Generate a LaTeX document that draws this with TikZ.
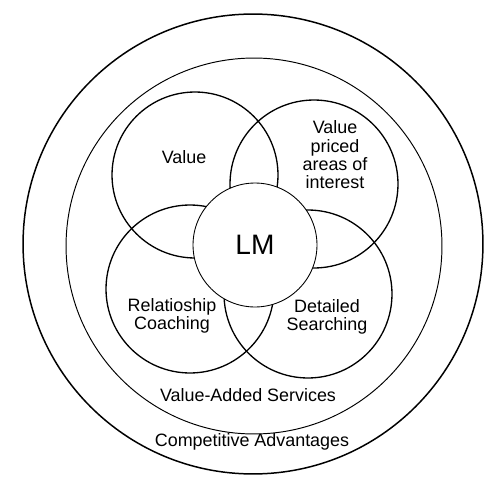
\documentclass[tikz,border=0pt]{standalone}
\usepackage{fontspec}
\setmainfont{Liberation Sans}

\begin{document}
\begin{tikzpicture}[x=0.02cm, y=-0.02cm,
  ring/.style={circle, draw, inner sep=0pt},
  petal/.style={ring, line width=0.75pt, minimum size=3.36cm},
  lbl/.style={align=center, font=\fontsize{10.2}{10.4}\selectfont}]
  \useasboundingbox (0,0) rectangle (500,500);
  % Outer rings
  \node[ring, line width=0.85pt, minimum size=9.2cm] (adv) at (253,244) {};
  \node[ring, line width=0.55pt, minimum size=7.52cm] (vas) at (254,246) {};
  % Four overlapping circles
  \node[petal, minimum size=3.32cm] (value) at (195,175) {};
  \node[petal] (priced) at (314,184) {};
  \node[petal] (coach) at (190,289) {};
  \node[petal] (search) at (308,294) {};
  % Centre circle
  \node[ring, fill=white, line width=0.5pt, minimum size=2.48cm,
        font=\fontsize{16}{18}\selectfont] (lm) at (255,245) {LM};
  % Labels
  \node[lbl] (valuetxt) at (184,157) {Value};
  \node[lbl] (pricedtxt) at (335,155) {Value\\priced\\areas of\\interest};
  \node[lbl] (coachtxt) at (172,316) {Relatioship\\Coaching};
  \node[lbl] (searchtxt) at (327,317) {Detailed\\Searching};
  \node[lbl] (vastxt) at (248,395) {Value-Added Services};
  \node[lbl] (advtxt) at (252,442) {Competitive Advantages};
\end{tikzpicture}
\end{document}
